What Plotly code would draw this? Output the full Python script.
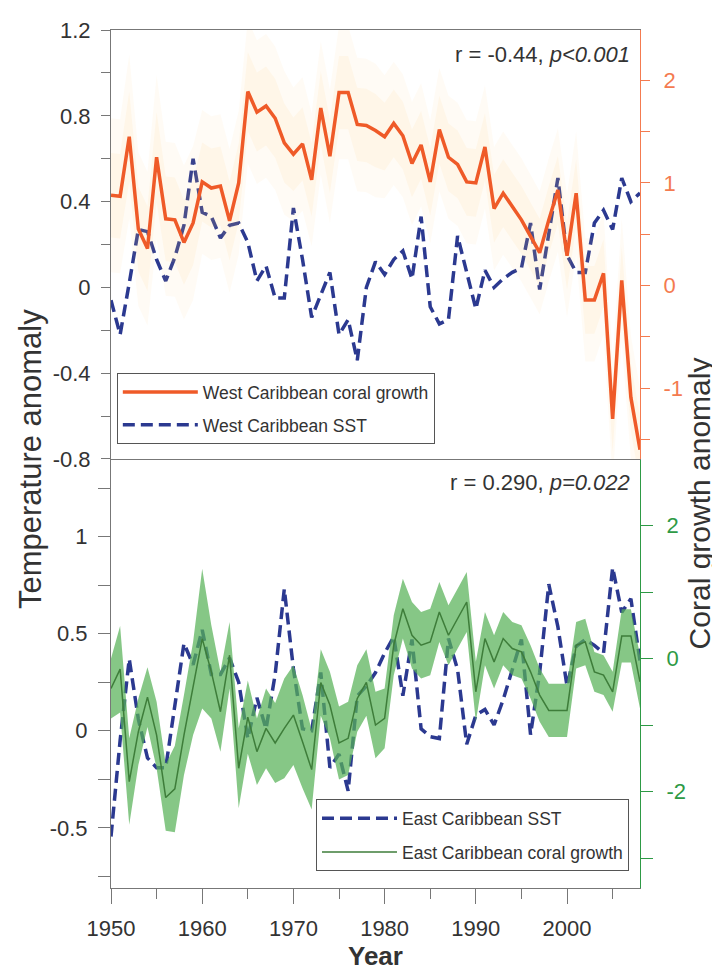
import plotly.graph_objects as go

years = list(range(1950, 2009))

# West Caribbean coral growth anomaly (right axis, top panel)
west_coral = [0.88, 0.87, 1.45, 0.55, 0.36, 1.25, 0.65, 0.64, 0.42, 0.61,
              1.01, 0.95, 0.97, 0.63, 1.00, 1.89, 1.69, 1.75, 1.63, 1.39,
              1.28, 1.38, 1.03, 1.73, 1.26, 1.88, 1.88, 1.57, 1.56, 1.51,
              1.45, 1.58, 1.46, 1.19, 1.37, 1.01, 1.52, 1.25, 1.18, 1.01,
              1.00, 1.35, 0.75, 0.90, 0.77, 0.64, 0.48, 0.32, 0.64, 0.93,
              0.29, 0.90, -0.14, -0.14, 0.12, -1.30, 0.05, -1.09, -1.60]
# faint uncertainty half-width around west coral growth
west_coral_err = [0.75, 0.75, 0.8, 0.75, 0.75, 0.8, 0.75, 0.75, 0.75, 0.75,
                  0.7, 0.7, 0.7, 0.7, 0.7, 0.7, 0.7, 0.7, 0.7, 0.7,
                  0.65, 0.65, 0.65, 0.65, 0.65, 0.65, 0.65, 0.65, 0.65, 0.65,
                  0.6, 0.6, 0.6, 0.6, 0.6, 0.6, 0.6, 0.6, 0.6, 0.6,
                  0.6, 0.6, 0.6, 0.6, 0.6, 0.6, 0.6, 0.6, 0.6, 0.6,
                  0.6, 0.6, 0.6, 0.6, 0.6, 0.6, 0.6, 0.6, 0.6]
# West Caribbean SST anomaly (left axis, top panel)
west_sst = [-0.06, -0.22, 0.02, 0.27, 0.26, 0.13, 0.03, 0.14, 0.29, 0.60,
            0.35, 0.33, 0.23, 0.29, 0.30, 0.21, 0.03, 0.10, -0.05, -0.05,
            0.37, 0.13, -0.14, -0.03, 0.07, -0.22, -0.15, -0.34, 0.00, 0.12,
            0.06, 0.13, 0.17, 0.04, 0.33, -0.09, -0.17, -0.15, 0.24, 0.07,
            -0.10, 0.08, 0.00, 0.04, 0.07, 0.09, 0.30, -0.01, 0.25, 0.51,
            0.15, 0.07, 0.07, 0.30, 0.36, 0.27, 0.51, 0.40, 0.44]
# East Caribbean SST anomaly (left axis, bottom panel)
east_sst = [-0.545, -0.05, 0.37, 0.06, -0.14, -0.19, -0.19, 0.13, 0.45, 0.34,
            0.52, 0.29, 0.29, 0.375, 0.25, -0.04, 0.17, 0.01, 0.29, 0.73,
            0.32, 0.01, 0.00, 0.30, -0.19, -0.12, -0.31, 0.18, 0.23, 0.30,
            0.40, 0.485, 0.18, 0.47, 0.01, -0.03, -0.04, 0.475, 0.315, -0.07,
            0.08, 0.11, 0.03, 0.16, 0.315, 0.47, -0.02, 0.30, 0.755, 0.535,
            0.23, 0.435, 0.47, 0.44, 0.40, 0.84, 0.61, 0.68, 0.36]
# East Caribbean coral growth anomaly (right axis, bottom panel)
east_coral = [-0.45, -0.16, -1.85, -1.10, -0.58, -1.15, -2.09, -1.96, -1.15, -0.45,
              0.30, -0.20, -0.80, 0.05, -1.65, -0.88, -1.40, -1.05, -1.27, -1.05,
              -0.85, -1.25, -1.67, -0.36, -0.70, -1.27, -1.20, -0.60, -0.36, -1.00,
              -0.90, 0.20, 0.75, 0.35, 0.20, 0.25, 0.70, 0.35, 0.60, 0.85,
              -0.50, 0.30, -0.05, 0.30, 0.15, 0.10, -0.20, -0.55, -0.78, -0.78,
              -0.78, 0.20, 0.25, -0.20, -0.25, -0.50, 0.34, 0.34, -0.35]
east_coral_err = [0.45, 0.65, 0.65, 0.5, 0.45, 0.5, 0.5, 0.65, 0.6, 0.7,
                  1.05, 0.7, 0.6, 0.5, 0.6, 0.55, 0.5, 0.6, 0.6, 0.75,
                  0.75, 0.7, 0.6, 0.5, 0.5, 0.55, 0.55, 0.5, 0.5, 0.5,
                  0.45, 0.45, 0.45, 0.5, 0.5, 0.5, 0.45, 0.45, 0.45, 0.45,
                  0.45, 0.4, 0.4, 0.4, 0.4, 0.4, 0.4, 0.4, 0.4, 0.4,
                  0.4, 0.35, 0.35, 0.3, 0.3, 0.3, 0.4, 0.4, 0.4]

x_major = [1950, 1960, 1970, 1980, 1990, 2000]
x_minor = [1955, 1965, 1975, 1985, 1995, 2005]

RED = '#EF5A28'
BLUE = '#2B3990'
GREEN_LINE = '#3E7D3A'
GREEN_FILL = 'rgba(88,178,88,0.72)'
ORANGE_AX = '#F47B50'
GREEN_AX = '#2E9A45'
GREY = '#777777'
TXT = '#333333'
FONT = 'Liberation Sans, Arial, sans-serif'

fig = go.Figure()

# faint orange uncertainty cloud (top panel)
for k, a in [(1.0, 0.07), (0.55, 0.09)]:
    up = [c + e * k for c, e in zip(west_coral, west_coral_err)]
    lo = [c - e * k for c, e in zip(west_coral, west_coral_err)]
    fig.add_trace(go.Scatter(x=years + years[::-1], y=up + lo[::-1], fill='toself',
                             fillcolor=f'rgba(255,205,110,{a})', line=dict(width=0),
                             xaxis='x2', yaxis='y2', showlegend=False, hoverinfo='skip'))

fig.add_trace(go.Scatter(x=years, y=west_coral, mode='lines', name='West Caribbean coral growth',
                         line=dict(color=RED, width=3.5), xaxis='x2', yaxis='y2',
                         legend='legend', legendgroup='a'))
fig.add_trace(go.Scatter(x=years, y=west_sst, mode='lines', name='West Caribbean SST',
                         line=dict(color=BLUE, width=3.5, dash='12px,6px'), xaxis='x2', yaxis='y',
                         legend='legend', legendgroup='b'))

# bottom panel
up = [c + e for c, e in zip(east_coral, east_coral_err)]
lo = [c - e for c, e in zip(east_coral, east_coral_err)]
fig.add_trace(go.Scatter(x=years + years[::-1], y=up + lo[::-1], fill='toself',
                         fillcolor=GREEN_FILL, line=dict(width=0), xaxis='x', yaxis='y4',
                         showlegend=False, hoverinfo='skip'))
fig.add_trace(go.Scatter(x=years, y=east_sst, mode='lines', name='East Caribbean SST',
                         line=dict(color=BLUE, width=3.5, dash='12px,6px'), xaxis='x', yaxis='y3',
                         legend='legend2', legendgroup='c'))
fig.add_trace(go.Scatter(x=years, y=east_coral, mode='lines', name='East Caribbean coral growth',
                         line=dict(color=GREEN_LINE, width=1.5), xaxis='x', yaxis='y4',
                         legend='legend2', legendgroup='d'))


def fmt(v):
    return '%g' % v


common_y = dict(showgrid=False, zeroline=False, ticks='outside', showline=True,
                tickfont=dict(size=22, family=FONT), ticklabelstandoff=6,
                ticklabeloverflow='allow')

top_left = [-0.8, -0.4, 0, 0.4, 0.8, 1.2]
top_right = [-1, 0, 1, 2]
bot_left = [-0.5, 0, 0.5, 1]
bot_right = [-2, 0, 2]

fig.update_layout(
    width=712, height=966,
    margin=dict(l=103, r=80, t=10, b=86),
    plot_bgcolor='white', paper_bgcolor='white',
    font=dict(family=FONT, color=TXT),
    xaxis=dict(domain=[0, 1], anchor='y3', range=[1950, 2008], tickvals=x_major,
               ticktext=[str(v) for v in x_major], ticks='outside', ticklen=15, tickcolor=GREY,
               showline=True, linecolor=GREY, showgrid=False, zeroline=False,
               minor=dict(tickvals=x_minor, ticks='outside', ticklen=10, tickcolor=GREY),
               tickfont=dict(size=22, color=TXT), ticklabelstandoff=6, ticklabeloverflow='allow'),
    xaxis2=dict(domain=[0, 1], anchor='y', matches='x', range=[1950, 2008], showticklabels=False,
                ticks='', showline=True, linecolor=GREY, mirror=True, showgrid=False, zeroline=False),
    yaxis=dict(domain=[0.5, 1], anchor='x2', range=[-0.8001, 1.2001], tickvals=top_left,
               ticktext=[fmt(v) for v in top_left], ticklen=9, tickcolor=GREY, linecolor=GREY,
               minor=dict(tickvals=[-0.6, -0.2, 0.2, 0.6, 1.0], ticks='outside', ticklen=9, tickcolor=GREY),
               **common_y),
    yaxis2=dict(overlaying='y', side='right', anchor='x2', range=[-1.69, 2.49], tickvals=top_right,
                ticktext=[fmt(v) for v in top_right], ticklen=9, tickcolor=ORANGE_AX, linecolor=ORANGE_AX,
                minor=dict(tickvals=[-1.5, -0.5, 0.5, 1.5], ticks='outside', ticklen=9, tickcolor=ORANGE_AX),
                **{**common_y, 'tickfont': dict(size=22, family=FONT, color=ORANGE_AX), 'ticklabelstandoff': 9}),
    yaxis3=dict(domain=[0, 0.5], anchor='x', range=[-0.81, 1.40], tickvals=bot_left,
                ticktext=[fmt(v) for v in bot_left], ticklen=12, tickcolor=GREY, linecolor=GREY,
                minor=dict(tickvals=[-0.75, -0.25, 0.25, 0.75, 1.25], ticks='outside', ticklen=12, tickcolor=GREY),
                **common_y),
    yaxis4=dict(overlaying='y3', side='right', anchor='x', range=[-3.45, 3.0], tickvals=bot_right,
                ticktext=[fmt(v) for v in bot_right], ticklen=12, tickcolor=GREEN_AX, linecolor=GREEN_AX,
                minor=dict(tickvals=[-3, -1, 1], ticks='outside', ticklen=12, tickcolor=GREEN_AX),
                **{**common_y, 'tickfont': dict(size=22, family=FONT, color=GREEN_AX), 'ticklabelstandoff': 9}),
    legend=dict(x=0.011, y=0.60, xanchor='left', yanchor='top', bordercolor='#555', borderwidth=1,
                bgcolor='white', font=dict(size=17.5, color=TXT), itemwidth=75, tracegroupgap=7,
                traceorder='grouped'),
    legend2=dict(x=0.3875, y=0.1034, xanchor='left', yanchor='top', bordercolor='#555', borderwidth=1,
                 bgcolor='white', font=dict(size=17.5, color=TXT), itemwidth=75, tracegroupgap=8,
                 traceorder='grouped'),
    annotations=[
        dict(text='Temperature anomaly', x=-0.153, y=0.5, xref='paper', yref='paper', textangle=-90,
             showarrow=False, font=dict(size=31, color=TXT), xanchor='center', yanchor='middle'),
        dict(text='Coral growth anomaly', x=1.113, y=0.448, xref='paper', yref='paper', textangle=-90,
             showarrow=False, font=dict(size=30, color=TXT), xanchor='center', yanchor='middle'),
        dict(text='<b>Year</b>', x=0.5, y=-0.079, xref='paper', yref='paper', showarrow=False,
             font=dict(size=26, color=TXT), xanchor='center', yanchor='middle'),
        dict(text='r = -0.44, <i>p<0.001</i>', x=0.985, y=0.972, xref='paper', yref='paper',
             showarrow=False, font=dict(size=22, color=TXT), xanchor='right', yanchor='middle'),
        dict(text='r = 0.290, <i>p=0.022</i>', x=0.985, y=0.4724, xref='paper', yref='paper',
             showarrow=False, font=dict(size=22, color=TXT), xanchor='right', yanchor='middle'),
    ],
)

fig.write_html('out.html')
